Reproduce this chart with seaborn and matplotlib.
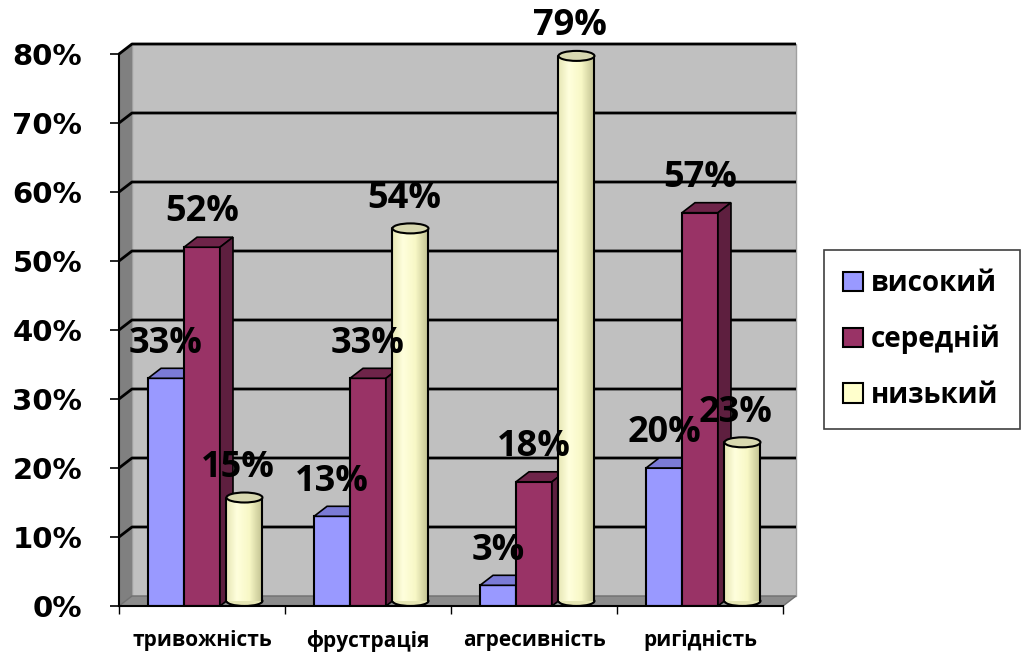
import numpy as np
import pandas as pd
import seaborn as sns
import matplotlib.pyplot as plt
from matplotlib.patches import Polygon, Ellipse, Rectangle, Patch
from matplotlib.colors import LinearSegmentedColormap

# data
categories = ['тривожність', 'фрустрація', 'агресивність', 'ригідність']
levels = ['високий', 'середній', 'низький']
high = [0.33, 0.13, 0.03, 0.20]
mid = [0.52, 0.33, 0.18, 0.57]
low = [0.15, 0.54, 0.79, 0.23]
y_ticks = [0.0, 0.1, 0.2, 0.3, 0.4, 0.5, 0.6, 0.7, 0.8]

colors = ['#9999FF', '#993366', '#FFFFCC']
top_colors = ['#7B7BD6', '#6E2449']
side_colors = ['#5C5CA8', '#5E1F3F']

df = pd.DataFrame({
    'category': categories * 3,
    'level': np.repeat(levels, len(categories)),
    'value': high + mid + low,
})

sns.set_style('white')
plt.rcParams['font.family'] = ['Open Sans', 'DejaVu Sans']
plt.rcParams['text.color'] = 'black'
plt.rcParams['xtick.color'] = 'black'
plt.rcParams['ytick.color'] = 'black'

fig = plt.figure(figsize=(10.32, 6.53), dpi=100)
ax = fig.add_axes([119 / 1032, 47 / 653, 664 / 1032, 552 / 653])
ax.set_facecolor('none')

sns.barplot(data=df, x='category', y='value', hue='level', order=categories,
            hue_order=levels, palette=colors, saturation=1, width=0.65, gap=0,
            edgecolor='black', linewidth=1.5, legend=False, ax=ax)

x0, x1 = -0.5, len(categories) - 0.5
ymax = 0.8
DX = 13 / 166          # depth offset, x units
DY = ymax * 10 / 552   # depth offset, y units

# --- fake 3D walls ---
ax.add_patch(Rectangle((x0 + DX, DY), x1 - x0, ymax, fc='#C0C0C0', ec='#A0A0A0',
                       lw=1, zorder=0, clip_on=False))
ax.add_patch(Polygon([(x0, 0), (x0 + DX, DY), (x0 + DX, ymax + DY), (x0, ymax)],
                     fc='#808080', ec='none', zorder=0.5, clip_on=False))
ax.add_patch(Polygon([(x0, 0), (x1, 0), (x1 + DX, DY), (x0 + DX, DY)],
                     fc='#8C8C8C', ec='#707070', lw=1, zorder=0.5, clip_on=False))
for v in y_ticks[1:]:
    ax.plot([x0, x0 + DX, x1 + DX], [v, v + DY, v + DY], color='black', lw=2,
            zorder=0.8, clip_on=False, solid_capstyle='butt')

cyl_cmap = LinearSegmentedColormap.from_list(
    'cyl', [(0, '#E6E6B4'), (0.3, '#FFFFDD'), (0.65, '#F8F8C6'), (1, '#C4C494')])
grad = np.linspace(0, 1, 64).reshape(1, -1)

for i, container in enumerate(ax.containers):
    for bar in container:
        x, w, h = bar.get_x(), bar.get_width(), bar.get_height()
        if i < 2:
            z = 2 + i
            bar.set_zorder(z)
            ax.add_patch(Polygon([(x, h), (x + DX, h + DY), (x + w + DX, h + DY), (x + w, h)],
                                 fc=top_colors[i], ec='black', lw=1.2, zorder=z))
            ax.add_patch(Polygon([(x + w, 0), (x + w + DX, DY), (x + w + DX, h + DY), (x + w, h)],
                                 fc=side_colors[i], ec='black', lw=1.2, zorder=z))
        else:
            bar.set_visible(False)
            cx = x + w / 2 + DX / 2
            yb, yt = DY / 2, h + DY / 2
            ax.add_patch(Ellipse((cx, yb), w, DY, fc='#E6E6B4', ec='black', lw=1.5, zorder=4))
            ax.imshow(grad, extent=[cx - w / 2, cx + w / 2, yb, yt], aspect='auto',
                      cmap=cyl_cmap, zorder=4.1, interpolation='bilinear')
            ax.plot([cx - w / 2, cx - w / 2], [yb, yt], color='black', lw=1.5, zorder=4.2)
            ax.plot([cx + w / 2, cx + w / 2], [yb, yt], color='black', lw=1.5, zorder=4.2)
            ax.add_patch(Ellipse((cx, yt), w, DY, fc='#D8D8B0', ec='black', lw=1.5,
                                 zorder=4.3, clip_on=False))
        ax.annotate(f'{h:.0%}', (x + w / 2, h), xytext=(0, 25), textcoords='offset points',
                    ha='center', va='center', fontsize=26, fontweight='bold',
                    zorder=10, annotation_clip=False)

ax.set_xlim(x0, x1)
ax.set_ylim(0, ymax)
ax.set_aspect('auto')

ax.set_yticks(y_ticks)
ax.set_yticklabels([f'{v:.0%}' for v in y_ticks], fontfamily='DejaVu Sans',
                   fontsize=21, fontweight='bold')
ax.tick_params(axis='y', length=6.5, width=1.2, color='black', pad=20, left=True)

ax.set_xticks(range(len(categories)))
ax.set_xticklabels(categories, fontsize=15, fontweight='bold')
ax.set_xticks(np.arange(x0, x1 + 0.01, 1), minor=True)
ax.tick_params(axis='x', which='major', length=0, pad=17)
ax.tick_params(axis='x', which='minor', length=6, width=1, color='black', bottom=True)
ax.set_xlabel('')
ax.set_ylabel('')
ax.grid(False)

for s in ['top', 'right']:
    ax.spines[s].set_visible(False)
for s in ['left', 'bottom']:
    ax.spines[s].set_color('black')
    ax.spines[s].set_linewidth(1.5)
    ax.spines[s].set_zorder(5)

handles = [Patch(facecolor=c, edgecolor='black', lw=1.5) for c in colors]
leg = fig.legend(handles, levels, loc='upper left', bbox_to_anchor=(824 / 1032, 1 - 250 / 653),
                 frameon=True, fancybox=False, edgecolor='#404040', framealpha=1,
                 prop={'size': 20, 'weight': 'bold'}, handlelength=0.7, handleheight=0.7,
                 handletextpad=0.3, labelspacing=0.95, borderpad=0.7, borderaxespad=0)
leg.get_frame().set_linewidth(1.2)

fig.savefig('out.png', dpi=100)
